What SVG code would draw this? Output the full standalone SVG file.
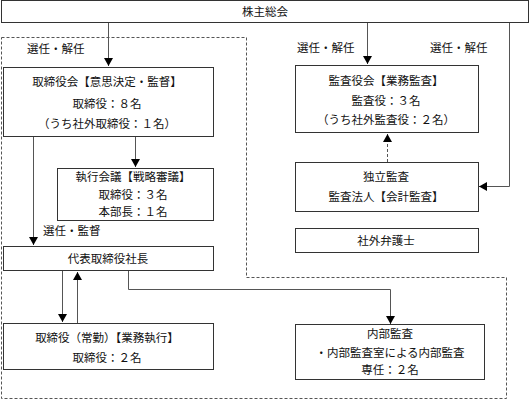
<svg xmlns="http://www.w3.org/2000/svg" width="530" height="401" viewBox="0 0 530 401">
<style>
.box{fill:#fff;stroke:#333;stroke-width:1}
.t{font-family:"Noto Sans CJK JP","Noto Sans",sans-serif;font-size:11.5px;fill:#111;text-anchor:middle}
.l{font-family:"Noto Sans CJK JP","Noto Sans",sans-serif;font-size:11.5px;fill:#111}
.c{fill:none;stroke:#555;stroke-width:1}
.d{fill:none;stroke:#555;stroke-width:1;stroke-dasharray:3,2}
</style>
<defs>
<marker id="ah" markerUnits="userSpaceOnUse" markerWidth="10" markerHeight="10" refX="8" refY="4.5" orient="auto">
<path d="M0,0 L8,4.5 L0,9 Z" fill="#000"/>
</marker>
</defs>
<rect width="530" height="401" fill="#fff"/>
<polygon class="d" points="1.5,37.5 246.5,37.5 246.5,277.5 506.5,277.5 506.5,398.5 1.5,398.5"/>
<g id="connectors">
<path class="c" d="M108.5,23 V66" marker-end="url(#ah)"/>
<path class="c" d="M367.5,23 V64" marker-end="url(#ah)"/>
<path class="c" d="M509.5,23 V186.5 H479" marker-end="url(#ah)"/>
<path class="c" d="M33.5,137 V245" marker-end="url(#ah)"/>
<path class="c" d="M135.5,137 V167" marker-end="url(#ah)"/>
<path class="c" d="M62.5,271 V322" marker-end="url(#ah)"/>
<path class="c" d="M77.5,323 V272" marker-end="url(#ah)"/>
<path class="c" d="M128.5,271 V289.5 H390.5 V324" marker-end="url(#ah)"/>
<path class="d" d="M387.5,162 V134" marker-end="url(#ah)"/>
<text class="l" x="27" y="53">選任・解任</text>
<text class="l" x="297" y="52">選任・解任</text>
<text class="l" x="430" y="52">選任・解任</text>
<text class="l" x="43" y="235">選任・監督</text>
</g>
<g id="agm">
<rect class="box" x="1.5" y="0.5" width="527" height="22"/>
<text class="t" x="265" y="16">株主総会</text>
</g>
<g id="board">
<rect class="box" x="3.5" y="67.5" width="210" height="69"/>
<text class="t" x="107" y="86">取締役会【意思決定・監督】</text>
<text class="t" x="107" y="108">取締役：８名</text>
<text class="t" x="107" y="128">（うち社外取締役：１名）</text>
</g>
<g id="exec">
<rect class="box" x="57.5" y="168.5" width="156" height="52"/>
<text class="t" x="133" y="181">執行会議【戦略審議】</text>
<text class="t" x="133" y="199">取締役：３名</text>
<text class="t" x="133" y="216">本部長：１名</text>
</g>
<g id="president">
<rect class="box" x="3.5" y="246.5" width="210" height="24"/>
<text class="t" x="108" y="263">代表取締役社長</text>
</g>
<g id="directors">
<rect class="box" x="3.5" y="323.5" width="210" height="46"/>
<text class="t" x="107" y="342">取締役（常勤）【業務執行】</text>
<text class="t" x="107" y="362">取締役：２名</text>
</g>
<g id="auditboard">
<rect class="box" x="295.5" y="65.5" width="183" height="67"/>
<text class="t" x="386" y="85">監査役会【業務監査】</text>
<text class="t" x="386" y="105">監査役：３名</text>
<text class="t" x="386" y="124">（うち社外監査役：２名）</text>
</g>
<g id="independent">
<rect class="box" x="295.5" y="162.5" width="183" height="49"/>
<text class="t" x="386" y="181">独立監査</text>
<text class="t" x="386" y="201">監査法人【会計監査】</text>
</g>
<g id="lawyer">
<rect class="box" x="295.5" y="228.5" width="183" height="24"/>
<text class="t" x="386" y="245">社外弁護士</text>
</g>
<g id="internal">
<rect class="box" x="295.5" y="324.5" width="189" height="55"/>
<text class="t" x="390" y="338">内部監査</text>
<text class="t" x="390" y="357">・内部監査室による内部監査</text>
<text class="t" x="390" y="374">専任：２名</text>
</g>
</svg>
